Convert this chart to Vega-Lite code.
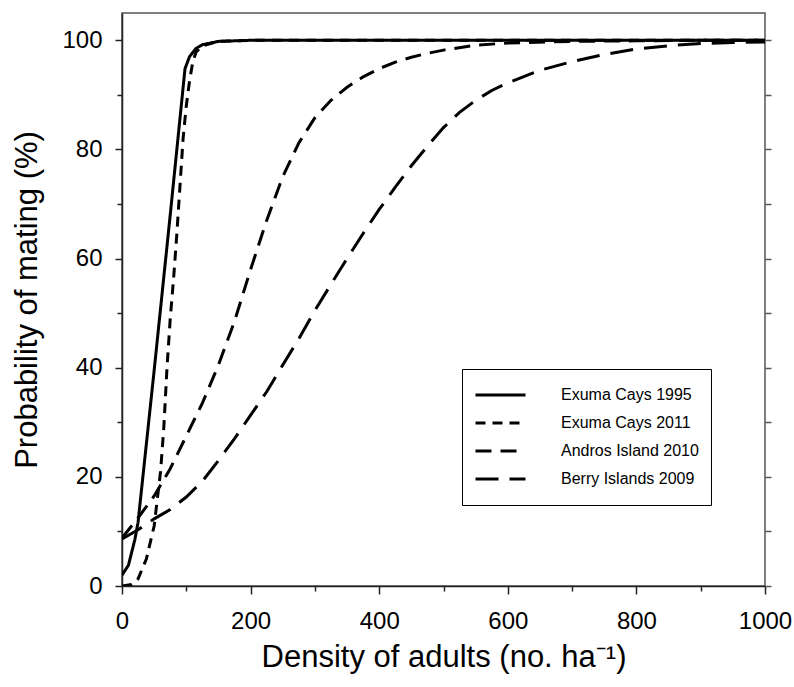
{
  "$schema": "https://vega.github.io/schema/vega-lite/v6.json",
  "width": 643,
  "height": 573,
  "autosize": {"type": "none"},
  "padding": {"left": 122, "top": 13, "right": 29, "bottom": 101},
  "background": "white",
  "config": {
    "font": "Liberation Sans",
    "view": {"stroke": "#555", "strokeWidth": 1.5},
    "axis": {"grid": false, "labelFont": "Liberation Sans", "titleFont": "Liberation Sans", "labelColor": "black", "titleColor": "black", "tickColor": "#222", "domainColor": "#222", "labelFlush": false, "labelOverlap": false, "titleFontWeight": "normal"}
  },
  "data": {"values": [
    {"site": "Exuma Cays 1995", "x": 0, "y": 2},
    {"site": "Exuma Cays 1995", "x": 10, "y": 3.8},
    {"site": "Exuma Cays 1995", "x": 20, "y": 8.5},
    {"site": "Exuma Cays 1995", "x": 25, "y": 11.7},
    {"site": "Exuma Cays 1995", "x": 50, "y": 39.5},
    {"site": "Exuma Cays 1995", "x": 75, "y": 68},
    {"site": "Exuma Cays 1995", "x": 98, "y": 94.8},
    {"site": "Exuma Cays 1995", "x": 105, "y": 97},
    {"site": "Exuma Cays 1995", "x": 115, "y": 98.5},
    {"site": "Exuma Cays 1995", "x": 125, "y": 99.2},
    {"site": "Exuma Cays 1995", "x": 150, "y": 99.8},
    {"site": "Exuma Cays 1995", "x": 200, "y": 100},
    {"site": "Exuma Cays 1995", "x": 400, "y": 100},
    {"site": "Exuma Cays 1995", "x": 600, "y": 100},
    {"site": "Exuma Cays 1995", "x": 800, "y": 100},
    {"site": "Exuma Cays 1995", "x": 1000, "y": 100},
    {"site": "Exuma Cays 2011", "x": 0, "y": 0},
    {"site": "Exuma Cays 2011", "x": 15, "y": 0.3},
    {"site": "Exuma Cays 2011", "x": 25, "y": 1.3},
    {"site": "Exuma Cays 2011", "x": 38, "y": 5},
    {"site": "Exuma Cays 2011", "x": 50, "y": 11},
    {"site": "Exuma Cays 2011", "x": 55, "y": 16},
    {"site": "Exuma Cays 2011", "x": 60, "y": 21},
    {"site": "Exuma Cays 2011", "x": 65, "y": 29},
    {"site": "Exuma Cays 2011", "x": 70, "y": 40},
    {"site": "Exuma Cays 2011", "x": 75, "y": 49},
    {"site": "Exuma Cays 2011", "x": 80, "y": 56},
    {"site": "Exuma Cays 2011", "x": 85, "y": 64},
    {"site": "Exuma Cays 2011", "x": 90, "y": 73},
    {"site": "Exuma Cays 2011", "x": 95, "y": 82},
    {"site": "Exuma Cays 2011", "x": 100, "y": 88},
    {"site": "Exuma Cays 2011", "x": 105, "y": 92.5},
    {"site": "Exuma Cays 2011", "x": 110, "y": 96},
    {"site": "Exuma Cays 2011", "x": 115, "y": 97.8},
    {"site": "Exuma Cays 2011", "x": 125, "y": 99},
    {"site": "Exuma Cays 2011", "x": 150, "y": 99.8},
    {"site": "Exuma Cays 2011", "x": 200, "y": 100},
    {"site": "Exuma Cays 2011", "x": 400, "y": 100},
    {"site": "Exuma Cays 2011", "x": 600, "y": 100},
    {"site": "Exuma Cays 2011", "x": 800, "y": 100},
    {"site": "Exuma Cays 2011", "x": 1000, "y": 100},
    {"site": "Andros Island 2010", "x": 0, "y": 8.8},
    {"site": "Andros Island 2010", "x": 25, "y": 12.5},
    {"site": "Andros Island 2010", "x": 50, "y": 16.5},
    {"site": "Andros Island 2010", "x": 75, "y": 21.5},
    {"site": "Andros Island 2010", "x": 100, "y": 27.5},
    {"site": "Andros Island 2010", "x": 125, "y": 33.5},
    {"site": "Andros Island 2010", "x": 150, "y": 40.5},
    {"site": "Andros Island 2010", "x": 175, "y": 48.5},
    {"site": "Andros Island 2010", "x": 200, "y": 58},
    {"site": "Andros Island 2010", "x": 225, "y": 67},
    {"site": "Andros Island 2010", "x": 250, "y": 75},
    {"site": "Andros Island 2010", "x": 275, "y": 81.2},
    {"site": "Andros Island 2010", "x": 300, "y": 85.8},
    {"site": "Andros Island 2010", "x": 325, "y": 89},
    {"site": "Andros Island 2010", "x": 350, "y": 91.4},
    {"site": "Andros Island 2010", "x": 375, "y": 93.3},
    {"site": "Andros Island 2010", "x": 400, "y": 94.8},
    {"site": "Andros Island 2010", "x": 425, "y": 96},
    {"site": "Andros Island 2010", "x": 450, "y": 96.9},
    {"site": "Andros Island 2010", "x": 475, "y": 97.6},
    {"site": "Andros Island 2010", "x": 500, "y": 98.2},
    {"site": "Andros Island 2010", "x": 550, "y": 99.1},
    {"site": "Andros Island 2010", "x": 600, "y": 99.5},
    {"site": "Andros Island 2010", "x": 700, "y": 99.8},
    {"site": "Andros Island 2010", "x": 800, "y": 99.9},
    {"site": "Andros Island 2010", "x": 900, "y": 100},
    {"site": "Andros Island 2010", "x": 1000, "y": 100},
    {"site": "Berry Islands 2009", "x": 0, "y": 8.6},
    {"site": "Berry Islands 2009", "x": 25, "y": 10.3},
    {"site": "Berry Islands 2009", "x": 50, "y": 12.3},
    {"site": "Berry Islands 2009", "x": 75, "y": 14},
    {"site": "Berry Islands 2009", "x": 100, "y": 16.3},
    {"site": "Berry Islands 2009", "x": 125, "y": 19.2},
    {"site": "Berry Islands 2009", "x": 150, "y": 23},
    {"site": "Berry Islands 2009", "x": 175, "y": 27},
    {"site": "Berry Islands 2009", "x": 200, "y": 31.3},
    {"site": "Berry Islands 2009", "x": 225, "y": 35.6},
    {"site": "Berry Islands 2009", "x": 250, "y": 40.5},
    {"site": "Berry Islands 2009", "x": 275, "y": 45.3},
    {"site": "Berry Islands 2009", "x": 300, "y": 50.5},
    {"site": "Berry Islands 2009", "x": 325, "y": 55.3},
    {"site": "Berry Islands 2009", "x": 350, "y": 60},
    {"site": "Berry Islands 2009", "x": 375, "y": 64.6},
    {"site": "Berry Islands 2009", "x": 400, "y": 69},
    {"site": "Berry Islands 2009", "x": 425, "y": 73.1},
    {"site": "Berry Islands 2009", "x": 450, "y": 77},
    {"site": "Berry Islands 2009", "x": 475, "y": 80.6},
    {"site": "Berry Islands 2009", "x": 500, "y": 84},
    {"site": "Berry Islands 2009", "x": 525, "y": 86.8},
    {"site": "Berry Islands 2009", "x": 550, "y": 89},
    {"site": "Berry Islands 2009", "x": 575, "y": 90.8},
    {"site": "Berry Islands 2009", "x": 600, "y": 92.2},
    {"site": "Berry Islands 2009", "x": 650, "y": 94.5},
    {"site": "Berry Islands 2009", "x": 700, "y": 96.1},
    {"site": "Berry Islands 2009", "x": 750, "y": 97.4},
    {"site": "Berry Islands 2009", "x": 800, "y": 98.4},
    {"site": "Berry Islands 2009", "x": 850, "y": 99},
    {"site": "Berry Islands 2009", "x": 900, "y": 99.4},
    {"site": "Berry Islands 2009", "x": 950, "y": 99.6},
    {"site": "Berry Islands 2009", "x": 1000, "y": 99.7}
  ]},
  "resolve": {"axis": {"y": "independent", "x": "independent"}},
  "layer": [
    {
      "mark": {"type": "line", "color": "black", "strokeWidth": 3, "strokeCap": "butt", "clip": true},
      "encoding": {
        "x": {"field": "x", "type": "quantitative",
          "scale": {"domain": [0, 1000], "nice": false, "zero": false},
          "axis": {"orient": "bottom", "values": [0,100,200,300,400,500,600,700,800,900,1000], "format": "d",
            "labelExpr": "datum.value % 200 === 0 ? datum.label : ''",
            "tickSize": {"condition": {"test": "datum.value % 200 === 0", "value": 8}, "value": 5},
            "labelFontSize": 24, "labelPadding": 15, "domainWidth": 1.5, "tickWidth": 1.5,
            "title": "Density of adults (no. ha⁻¹)", "titleFontSize": 31, "titlePadding": 9}},
        "y": {"field": "y", "type": "quantitative",
          "scale": {"domain": [0, 105], "nice": false, "zero": false},
          "axis": {"orient": "left", "values": [0,10,20,30,40,50,60,70,80,90,100], "format": "d",
            "labelExpr": "datum.value % 20 === 0 ? datum.label : ''",
            "tickSize": {"condition": {"test": "datum.value % 20 === 0", "value": 7}, "value": 5},
            "labelFontSize": 24, "labelPadding": 13, "domainWidth": 1.5, "tickWidth": 1.5,
            "title": "Probability of mating (%)", "titleFontSize": 31, "titlePadding": 18}},
        "strokeDash": {"field": "site", "type": "nominal",
          "scale": {"domain": ["Exuma Cays 1995", "Exuma Cays 2011", "Andros Island 2010", "Berry Islands 2009"],
            "range": [[1, 0], [10, 7], [16, 9], [23, 11]]},
          "legend": {"orient": "none", "legendX": 340, "legendY": 356, "title": null,
            "strokeColor": "black", "fillColor": "white", "padding": 12,
            "symbolType": "stroke", "symbolSize": 2500, "symbolStrokeWidth": 3, "symbolStrokeColor": "black",
            "labelFontSize": 16, "labelFont": "Liberation Sans", "labelColor": "black", "labelOffset": 34,
            "clipHeight": 28, "rowPadding": 0, "labelLimit": 300}}
      }
    },
    {
      "mark": {"type": "line", "opacity": 0},
      "encoding": {
        "x": {"field": "x", "type": "quantitative", "axis": null},
        "y": {"field": "y", "type": "quantitative",
          "axis": {"orient": "right", "values": [0,10,20,30,40,50,60,70,80,90,100], "labels": false, "domain": false, "tickSize": 6, "tickWidth": 1.5, "tickColor": "#555", "title": null}},
        "detail": {"field": "site", "type": "nominal"}
      }
    }
  ]
}
